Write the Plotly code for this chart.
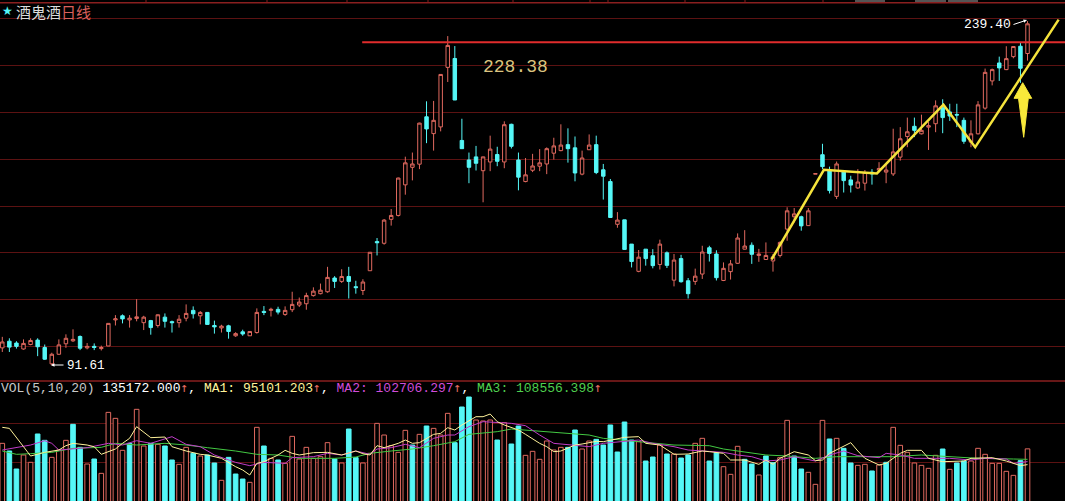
import plotly.graph_objects as go

W = 1065
H = 501

# daily candles
opens = [96.2,98.0,97.5,95.9,97.1,98.3,96.3,92.0,94.5,97.3,98.1,99.3,96.2,96.6,96.0,96.7,104.0,105.2,104.0,104.4,
         103.2,103.8,102.4,104.8,103.5,103.2,104.5,106.8,105.2,106.2,102.4,101.7,102.3,99.5,100.6,99.5,100.4,106.5,106.8,107.1,
         105.6,107.0,108.4,108.8,111.3,111.9,112.5,116.9,115.8,117.4,114.1,112.9,
         119.3,129.4,128.8,137.7,139.2,151.6,159.2,160.6,183.3,174.9,178.2,210.4,215.7,171.6,162.5,163.9,157.7,161.6,165.0,161.6,
         179.5,162.5,153.0,157.9,159.7,160.7,165.6,166.8,169.6,168.1,156.2,167.2,169.6,158.1,153.0,135.8,137.5,128.5,119.1,126.7,
         124.4,121.4,125.4,116.2,123.4,116.0,115.8,118.2,127.2,
         125.0,116.1,119.0,121.8,126.7,128.1,124.5,123.1,122.6,124.5,134.0,138.7,138.7,135.3,156.2,164.9,157.7,146.8,157.4,153.7,
         150.3,152.3,157.0,158.0,157.1,156.3,163.8,173.5,178.5,174.8,178.1,179.8,188.3,185.8,184.5,181.5,170.8,174.8,187.8,202.6,
         213.0,209.1,216.8,223.2,218.7]
highs = [99.2,98.8,98.0,98.5,98.8,98.8,97.1,94.9,98.5,99.9,101.3,99.6,97.5,97.4,96.8,103.0,105.4,105.6,105.4,110.2,
         105.2,104.0,105.6,105.9,103.8,105.4,108.6,108.0,106.6,106.3,103.8,102.6,102.6,100.5,101.2,100.7,107.4,108.1,107.6,107.9,
         108.0,112.5,110.7,112.2,113.9,115.1,120.6,117.5,119.8,120.6,116.0,116.5,
         125.6,130.7,137.8,141.7,154.7,164.0,165.9,180.3,191.4,191.6,206.3,229.6,223.3,182.3,165.9,169.0,164.0,173.9,168.6,181.0,
         179.8,165.9,163.4,165.3,167.5,168.3,172.9,179.5,177.5,173.5,166.8,174.5,173.9,160.7,154.1,140.5,137.5,128.5,126.4,126.7,
         126.7,130.1,125.9,125.0,124.7,116.9,120.0,127.9,127.9,
         126.3,122.1,122.9,132.4,133.6,129.1,126.8,129.1,125.0,129.5,142.4,142.1,139.1,142.1,156.4,170.0,159.5,161.8,157.7,155.5,
         158.4,158.0,158.4,161.5,160.7,177.3,178.1,182.9,182.9,184.4,180.7,191.9,192.5,190.1,190.1,182.9,181.5,191.5,209.7,209.7,
         216.8,223.2,223.2,225.3,239.4]
lows = [95.1,95.1,96.0,95.7,96.9,94.0,93.0,91.61,94.4,96.2,97.8,95.6,95.8,95.6,95.5,96.7,102.4,103.0,101.8,103.6,
        101.1,99.8,101.8,101.8,100.4,101.8,103.6,104.4,102.7,102.7,100.1,100.4,98.7,99.2,99.5,99.5,100.1,105.4,105.0,105.6,
        105.2,106.3,107.8,107.0,111.0,111.7,112.2,113.7,115.3,110.4,111.9,111.5,
        119.3,124.5,128.3,135.3,138.8,147.5,153.5,158.4,170.3,166.8,176.0,202.0,192.1,167.7,152.3,157.8,144.4,157.5,159.7,158.8,
        167.8,149.3,152.7,157.1,157.5,156.2,162.7,166.5,161.3,153.1,155.7,167.1,156.2,145.5,138.4,134.5,126.4,120.4,118.8,121.0,
        120.1,119.7,120.2,114.2,115.4,110.4,114.7,116.6,122.4,
        116.1,115.9,116.4,121.6,126.6,121.6,122.3,123.0,119.0,123.8,129.7,136.5,133.4,135.2,156.2,158.4,148.0,145.7,148.4,148.4,
        149.9,149.2,151.7,157.0,152.3,155.4,162.2,168.4,173.2,174.5,167.1,175.6,175.1,181.2,178.1,170.0,168.4,174.5,187.0,200.1,
        202.6,208.8,215.8,201.5,214.4]
closes = [97.8,96.4,96.6,97.4,98.2,96.5,93.2,94.5,97.0,98.8,98.5,96.1,96.6,96.3,96.3,103.0,104.3,104.3,104.5,104.9,
          104.8,101.8,105.5,103.6,103.2,104.2,105.9,105.8,106.2,102.7,102.0,102.2,100.7,100.1,100.0,100.7,106.2,106.2,107.1,106.3,
          106.8,108.6,109.3,111.3,112.7,113.0,117.1,115.8,117.4,115.8,113.8,115.6,
          125.6,129.0,137.4,139.2,154.5,161.2,160.7,180.1,177.2,181.5,206.3,223.7,192.1,167.7,159.2,161.0,163.9,167.5,161.9,179.3,
          168.8,154.9,155.9,159.8,161.2,167.7,169.0,169.4,167.7,156.7,163.4,169.4,156.9,155.3,138.4,137.4,126.6,122.4,123.9,123.4,
          121.0,128.5,121.1,122.9,115.7,111.9,117.5,125.7,125.2,
          117.0,120.1,121.6,130.7,127.8,124.9,125.0,124.5,124.0,129.1,141.0,139.8,135.2,141.0,156.4,159.5,149.2,160.7,153.4,151.5,
          152.8,156.9,156.3,158.7,158.0,166.2,172.4,175.8,176.5,176.5,178.8,189.0,182.9,183.7,184.2,171.2,174.8,189.5,207.5,209.1,
          210.1,215.6,223.0,209.9,237.6]

# volume in thousands of hands, R = hollow red bar, C = cyan bar
volumes = [149.2,129.7,84.0,119.6,101.0,172.9,156.8,113.6,132.2,156.8,197.4,139.0,96.7,109.4,73.0,227.8,212.6,131.4,149.2,235.5,
           142.4,149.2,146.6,142.4,106.9,95.9,139.0,123.8,117.0,119.6,99.3,55.3,113.6,71.3,58.6,50.2,189.8,142.4,111.1,106.9,
           98.4,166.9,109.4,139.0,111.1,115.3,150.9,109.4,99.3,185.5,112.8,99.3,123.8,199.9,170.3,143.2,126.3,182.2,144.9,172.0,
           193.2,187.2,170.3,225.3,150.9,241.4,266.8,208.4,205.9,208.4,157.6,201.6,147.5,193.2,118.7,128.9,108.6,155.1,132.2,139.0,
           139.0,183.0,134.8,155.1,159.3,144.9,195.7,127.2,203.3,157.6,153.4,104.3,114.5,144.9,122.1,122.1,111.9,119.6,149.2,161.9,
           104.3,125.5,89.9,70.5,141.6,108.6,96.7,68.8,117.0,100.1,112.8,207.5,117.0,84.0,75.6,45.1,207.5,160.2,161.9,136.5,
           99.3,93.3,95.9,79.0,94.2,101.0,189.8,144.1,126.3,99.3,93.3,85.7,118.7,134.8,83.2,99.3,104.3,104.3,136.5,121.3,
           98.4,98.4,78.1,67.9,105.2,135.172]
vol_side = ("RCCRRCCRRR" "CCRCRRRRCR" "RCRCCRRCRC" "CRCCCRRCRC" "RRRRRRRCRC"
            "CRRRRRRRCR" "CRRRCCCRRR" "CRCCRRRRRR" "CCRRCCCCCC" "RCCRCRCCRR"
            "CCRRRCCRCC" "RRCCRRRCRC" "CRRCRCRRRR" "RRRCRCCRRR" "RRRRCR")

ma1_x = [0,1,3,4,6,8,9,10,12,13,14,16,17,18,19,20,21,23,24,26,28,29,31,33,34,35,36,37,39,40,41,42,44,46,48,50,
         51,52,53,54,56,57,58,59,61,62,63,64,65,67,68,69,70,71,73,74,76,77,78,79,81,82,84,85,86,88,90,91,93,95,97,99,
         100,102,103,105,107,108,109,110,112,114,115,116,117,119,120,121,122,124,125,127,128,130,131,133,136,137,140,142,144,145]
ma1 = [189.8,187.2,140.7,117.0,126.3,132.2,143.2,149.2,144.9,140.7,121.3,134.8,149.2,161.9,191.5,177.1,163.6,165.2,140.7,129.7,
       121.3,119.6,111.1,89.9,81.5,68.8,98.4,102.6,119.6,131.4,123.8,119.6,125.5,126.3,119.6,129.7,
       122.9,119.6,143.2,138.2,149.2,157.6,149.2,150.9,172.0,174.5,188.9,183.0,195.7,216.8,216.8,223.6,204.2,195.7,183.0,172.0,
       149.2,140.7,128.0,129.7,144.9,147.5,154.2,153.4,157.6,164.4,166.1,149.2,144.9,121.3,122.1,129.7,
       128.0,123.8,106.9,106.9,95.9,106.9,95.9,111.1,128.0,119.6,105.2,106.9,123.8,143.2,150.9,129.7,111.1,94.2,98.4,123.8,
       131.4,131.4,111.1,102.6,104.3,111.1,112.8,104.3,92.5,95.101]
ma2_x = [0,2,4,6,7,8,10,12,15,17,19,21,24,26,28,30,33,35,37,40,41,44,46,48,50,
         52,53,55,57,59,61,63,64,66,68,70,72,74,76,78,81,83,85,88,90,92,95,97,99,
         100,102,104,106,108,110,112,115,117,119,121,124,125,127,129,131,134,137,139,142,143,145]
ma2 = [132.2,138.2,144.9,155.9,149.2,132.2,134.8,138.2,149.2,144.9,155.9,149.2,166.1,146.6,140.7,119.6,100.9,92.5,100.9,98.4,
       112.8,115.3,123.8,119.6,129.7,
       121.3,134.8,138.2,146.6,138.2,161.9,170.3,170.3,191.5,204.2,202.5,199.9,194.0,170.3,149.2,143.2,140.7,149.2,155.1,157.6,
       149.2,140.7,132.2,129.7,
       128.0,126.3,119.6,115.3,104.3,106.9,115.3,104.3,119.6,129.7,117.9,112.8,123.8,119.6,111.1,111.1,111.1,106.9,111.1,109.4,
       98.4,102.706]
ma3_x = [0,2,4,7,10,14,16,19,23,26,29,33,36,39,42,47,50,
         52,55,58,61,64,66,70,72,74,78,83,85,88,90,95,100,
         102,105,108,111,115,118,122,126,130,134,138,143,145]
ma3 = [129.7,121.3,122.9,126.3,136.5,139.0,149.2,144.9,149.2,144.9,138.2,129.7,121.3,119.6,111.1,111.1,114.5,
       123.8,129.7,134.8,143.2,153.4,172.0,178.8,185.5,183.0,177.1,170.3,161.9,157.6,153.4,144.9,143.2,
       134.8,128.0,119.6,117.0,111.1,115.3,115.3,115.3,119.6,115.3,111.1,109.4,108.556]

# the hand-drawn marks on the chart
pen_x = [108.8,116.2,123.7,133.1,137.6,149.4]
pen_y = [123.1,158.1,156.5,189.6,168.4,240.4]
level_x = [50.9,150.3]
level_y = [225.7,225.7]

price_grid = [241.1,211.5,185.6,162.8,142.8,125.4,110.0,96.5]
vol_grid = [100,200]

RED = "#e0695f"
CYAN = "#55f7f7"
GRID = "#5c1212"
BORDER = "#8a1f1f"

# little month marks and grey tabs along the top edge
top_marks = [146,267,347,428,513,590,608,685,745,823]
top_tabs = [(855,885),(915,946),(948,978)]

assert len(opens) == len(highs) == len(lows) == len(closes) == len(volumes) == len(vol_side)
assert len(ma1_x) == len(ma1) and len(ma2_x) == len(ma2) and len(ma3_x) == len(ma3)


def px(x):
    return x / W


def py(y):
    return 1 - y / H


def label(x, y, text, color, size, font="Liberation Mono"):
    fig.add_annotation(xref="paper", yref="paper", x=px(x), y=py(y), text=text, showarrow=False,
                       xanchor="left", yanchor="middle", align="left", borderpad=0,
                       font=dict(color=color, size=size, family=font))


days = list(range(len(opens)))
fig = go.Figure()

fig.add_trace(go.Bar(x=days, y=volumes, yaxis="y2", width=0.65,
                     marker=dict(color=["#000000" if s == "R" else CYAN for s in vol_side],
                                 line=dict(color=[RED if s == "R" else CYAN for s in vol_side], width=1))))
fig.add_trace(go.Scatter(x=ma3_x, y=ma3, yaxis="y2", mode="lines", line=dict(color="#43c943", width=1)))
fig.add_trace(go.Scatter(x=ma2_x, y=ma2, yaxis="y2", mode="lines", line=dict(color="#c03cc8", width=1)))
fig.add_trace(go.Scatter(x=ma1_x, y=ma1, yaxis="y2", mode="lines", line=dict(color="#fff29a", width=1)))

fig.add_trace(go.Candlestick(x=days, open=opens, high=highs, low=lows, close=closes, whiskerwidth=0,
                             increasing=dict(line=dict(color=RED, width=1), fillcolor="#000000"),
                             decreasing=dict(line=dict(color=CYAN, width=1), fillcolor=CYAN)))
fig.add_trace(go.Scatter(x=level_x, y=level_y, mode="lines", line=dict(color="#e02c2c", width=2)))
fig.add_trace(go.Scatter(x=pen_x, y=pen_y, mode="lines", line=dict(color="#f5e33c", width=2.5)))

shapes = [
    dict(type="line", xref="paper", yref="paper", x0=0, x1=1, y0=py(381), y1=py(381),
         line=dict(color=BORDER, width=1.5)),
    dict(type="line", xref="paper", yref="paper", x0=0, x1=1, y0=py(2.7), y1=py(2.7),
         line=dict(color=BORDER, width=1.5)),
    # fat yellow arrow
    dict(type="path", xref="paper", yref="paper", fillcolor="#f8e93a", line=dict(color="#f8e93a", width=1),
         path="M %f %f L %f %f L %f %f L %f %f L %f %f L %f %f Z" % (
             px(1022.7), py(82.7), px(1031.7), py(98.3), px(1028.3), py(98.3),
             px(1023.7), py(137.3), px(1018.5), py(98.3), px(1014), py(98.3))),
]
for m in top_marks:
    shapes.append(dict(type="line", xref="paper", yref="paper", x0=px(m), x1=px(m), y0=py(0), y1=py(3),
                       line=dict(color=BORDER, width=1)))
for a, b in top_tabs:
    shapes.append(dict(type="rect", xref="paper", yref="paper", x0=px(a), x1=px(b), y0=py(0), y1=py(2),
                       fillcolor="#555555", line=dict(width=0)))

fig.update_layout(
    width=W, height=H, autosize=False, showlegend=False,
    margin=dict(l=0, r=0, t=0, b=0),
    paper_bgcolor="#000000", plot_bgcolor="#000000",
    xaxis=dict(range=[-0.325, 150.3], visible=False, rangeslider=dict(visible=False)),
    yaxis=dict(type="log", range=[1.943, 2.4047], domain=[0.2395, 1], tickvals=price_grid, showticklabels=False,
               gridcolor=GRID, gridwidth=1, zeroline=False, showline=False, ticks=""),
    yaxis2=dict(range=[2.8, 307.4], domain=[0, 0.2395], tickvals=vol_grid, showticklabels=False,
                gridcolor=GRID, gridwidth=1, zeroline=False, showline=False, ticks=""),
    shapes=shapes,
)

label(1, 11, "★", CYAN, 12, "DejaVu Sans")
label(15, 11, "酒鬼酒", "#dcdcdc", 15, "Noto Sans CJK SC")
label(60, 11, "日线", "#d9605c", 15, "Noto Sans CJK SC")
fig.add_annotation(xref="paper", yref="paper", x=px(51), y=py(365), axref="pixel", ayref="pixel", ax=14, ay=0,
                   text="", showarrow=True, arrowhead=2, arrowsize=0.7, arrowwidth=1, arrowcolor="#ffffff")
label(66, 366, "91.61", "#ffffff", 12.5)
label(482, 67, "228.38", "#dcc47f", 18)
label(963, 25, "239.40", "#ffffff", 13)
fig.add_annotation(xref="paper", yref="paper", x=px(1027), y=py(20), axref="pixel", ayref="pixel", ax=-15, ay=5,
                   text="", showarrow=True, arrowhead=2, arrowsize=0.7, arrowwidth=1, arrowcolor="#ffffff")
UP = '<span style="color:#e0695f;font-family:DejaVu Sans Mono">↑</span>'
label(0, 388,
      '<span style="color:#c8c8c8">VOL(5,10,20) </span>135172.000' + UP + ', '
      '<span style="color:#fff29a">MA1: 95101.203</span>' + UP + ', '
      '<span style="color:#d04cd8">MA2: 102706.297</span>' + UP + ', '
      '<span style="color:#4fd04f">MA3: 108556.398</span>' + UP,
      "#ffffff", 13)

fig.write_html("out.html", config={"displayModeBar": False},
               post_script="document.body.style.margin='0';document.body.style.background='#000';")
